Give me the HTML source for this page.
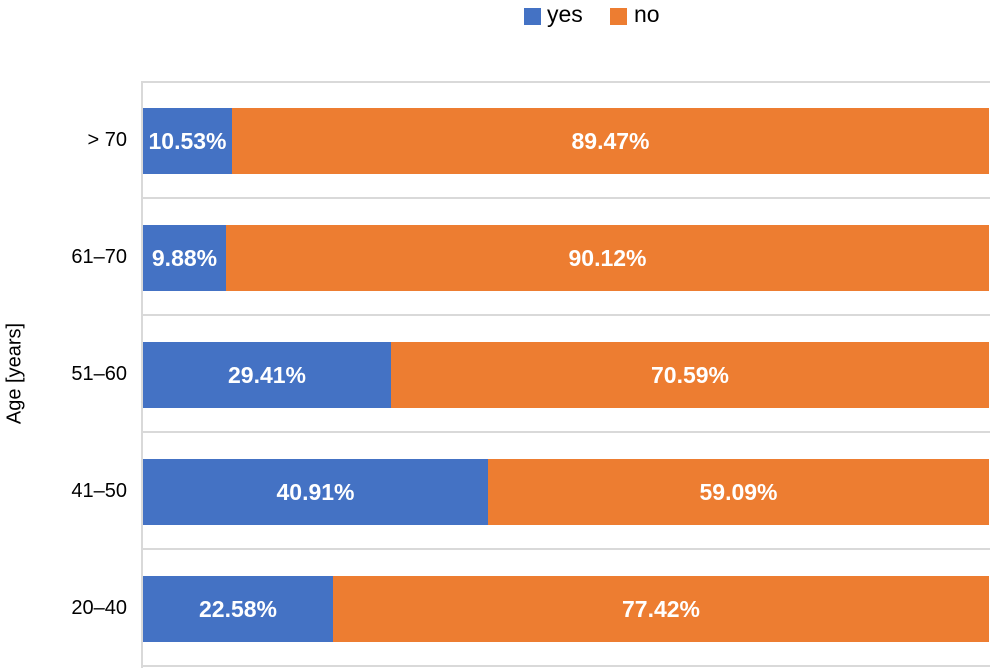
<!DOCTYPE html>
<html><head><style>
body{margin:0;width:992px;height:668px;background:#fff;font-family:"Liberation Sans",sans-serif;position:relative;overflow:hidden}
.a{position:absolute}
.g{position:absolute;left:142px;width:848px;height:2px;background:#d9d9d9}
.bar{position:absolute;height:66px;color:#fff;font-weight:bold;font-size:23px;display:flex;align-items:center;justify-content:center;white-space:nowrap}
.y{background:#4472c4}.n{background:#ed7d31}
.lab{position:absolute;right:865px;font-size:20px;color:#000;text-align:right}
</style></head><body>
<div class="a" style="left:524px;top:8px;width:17px;height:17px;background:#4472c4"></div>
<div class="a" style="left:547px;top:1px;font-size:23px">yes</div>
<div class="a" style="left:610px;top:8px;width:17px;height:17px;background:#ed7d31"></div>
<div class="a" style="left:634px;top:1px;font-size:23px">no</div>
<div class="a" style="left:141px;top:81px;width:2px;height:587px;background:#d9d9d9"></div>
<div class="g" style="top:81px"></div>
<div class="g" style="top:197px"></div>
<div class="g" style="top:314px"></div>
<div class="g" style="top:431px"></div>
<div class="g" style="top:548px"></div>
<div class="g" style="top:665px"></div>
<div class="a" style="left:-45px;top:362px;width:120px;transform:rotate(-90deg);font-size:20px;text-align:center">Age [years]</div>

<div class="lab" style="top:129px">&gt; 70</div>
<div class="bar y" style="left:143px;top:108px;width:89px">10.53%</div>
<div class="bar n" style="left:232px;top:108px;width:757px">89.47%</div>

<div class="lab" style="top:246px">61–70</div>
<div class="bar y" style="left:143px;top:225px;width:83px">9.88%</div>
<div class="bar n" style="left:226px;top:225px;width:763px">90.12%</div>

<div class="lab" style="top:363px">51–60</div>
<div class="bar y" style="left:143px;top:342px;width:248px">29.41%</div>
<div class="bar n" style="left:391px;top:342px;width:598px">70.59%</div>

<div class="lab" style="top:480px">41–50</div>
<div class="bar y" style="left:143px;top:459px;width:345px">40.91%</div>
<div class="bar n" style="left:488px;top:459px;width:501px">59.09%</div>

<div class="lab" style="top:597px">20–40</div>
<div class="bar y" style="left:143px;top:576px;width:190px">22.58%</div>
<div class="bar n" style="left:333px;top:576px;width:656px">77.42%</div>
</body></html>
